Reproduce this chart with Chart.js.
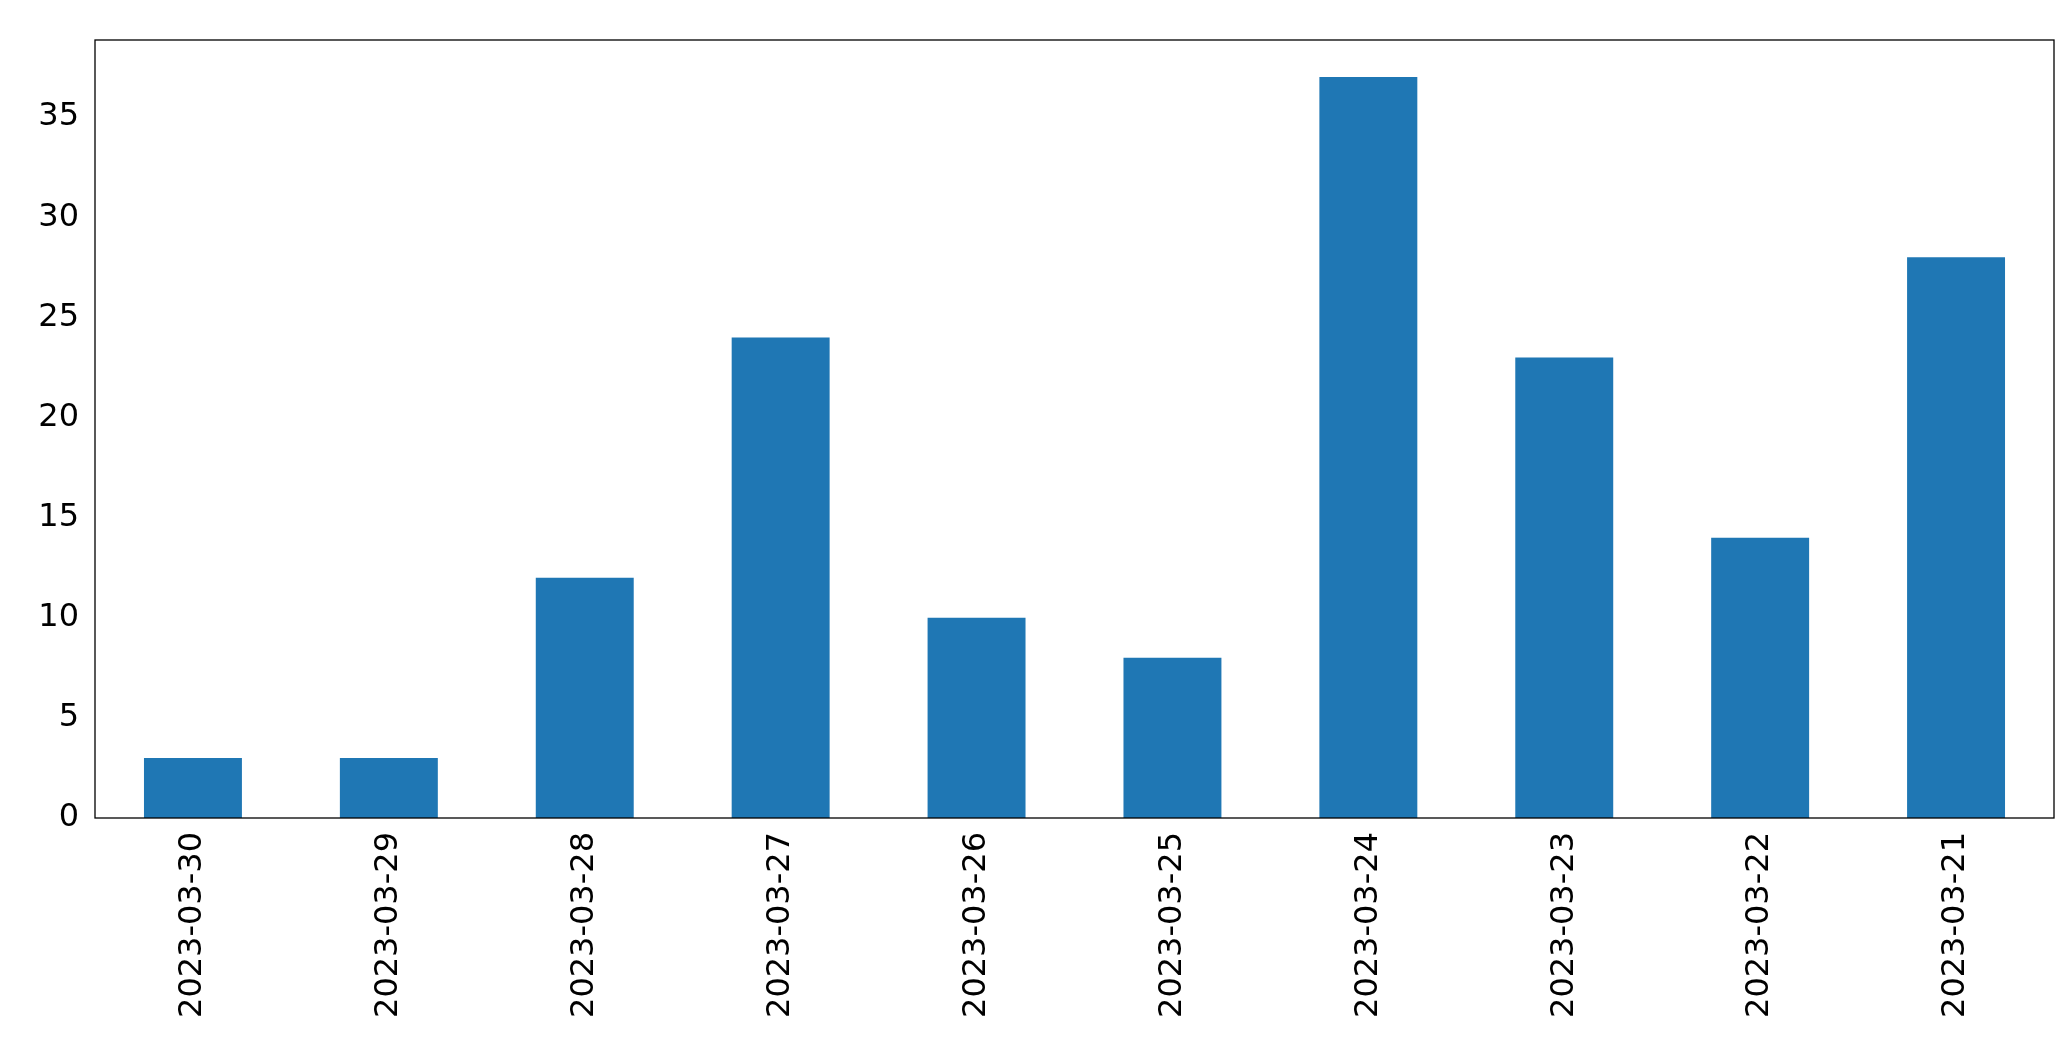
<!DOCTYPE html>
<html><head><meta charset="utf-8">
<script src="https://cdn.jsdelivr.net/npm/chart.js@4/dist/chart.umd.min.js"></script>
<style>html,body{margin:0;padding:0;background:#fff}#w{width:2071px;height:1061px}</style>
</head><body><div id="w"><canvas id="c"></canvas></div>
<script>
const categories = ["2023-03-30","2023-03-29","2023-03-28","2023-03-27","2023-03-26","2023-03-25","2023-03-24","2023-03-23","2023-03-22","2023-03-21"];
const values = [3,3,12,24,10,8,37,23,14,28];
const yMax = 38.85;
const frame = {id:'frame',afterDraw(ch){const a=ch.chartArea,c=ch.ctx;c.save();c.strokeStyle='#000';c.lineWidth=1.3;c.strokeRect(a.left,a.top,a.right-a.left,a.bottom-a.top);c.restore();}};
new Chart(document.getElementById('c'),{
 type:'bar',
 data:{labels:categories,datasets:[{data:values,backgroundColor:'#1f77b4',categoryPercentage:1,barPercentage:0.5}]},
 plugins:[frame],
 options:{responsive:true,maintainAspectRatio:false,animation:false,
  layout:{padding:{top:40,right:17,left:0,bottom:0}},
  plugins:{legend:{display:false},tooltip:{enabled:false}},
  scales:{
   x:{offset:true,grid:{display:false,drawTicks:true},border:{display:false},
      ticks:{color:'#000',maxRotation:90,minRotation:90,font:{family:'DejaVu Sans',size:32},padding:6},
      afterFit(s){s.height=1061-818;}},
   y:{min:0,max:yMax,grid:{display:false},border:{display:false},
      ticks:{stepSize:5,color:'#000',font:{family:'DejaVu Sans',size:32},padding:8,callback:v=>v%5===0?v:''},
      afterFit(s){s.width=95;}}
  }}
});
</script></body></html>
